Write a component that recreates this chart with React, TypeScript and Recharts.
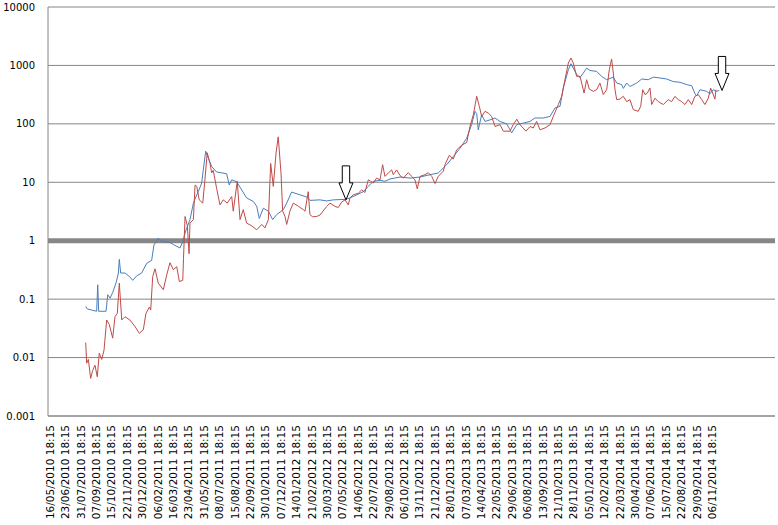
import React from 'react';
import { LineChart, Line, XAxis, YAxis, CartesianGrid, ReferenceLine, ReferenceDot } from 'recharts';

// x positions are measured in category periods (one period = spacing between date labels)
const xLabels: string[] = [
  '16/05/2010 18:15', '23/06/2010 18:15', '31/07/2010 18:15', '07/09/2010 18:15', '15/10/2010 18:15',
  '22/11/2010 18:15', '30/12/2010 18:15', '06/02/2011 18:15', '16/03/2011 18:15', '23/04/2011 18:15',
  '31/05/2011 18:15', '08/07/2011 18:15', '15/08/2011 18:15', '22/09/2011 18:15', '30/10/2011 18:15',
  '07/12/2011 18:15', '14/01/2012 18:15', '21/02/2012 18:15', '30/03/2012 18:15', '07/05/2012 18:15',
  '14/06/2012 18:15', '22/07/2012 18:15', '29/08/2012 18:15', '06/10/2012 18:15', '13/11/2012 18:15',
  '21/12/2012 18:15', '28/01/2013 18:15', '07/03/2013 18:15', '14/04/2013 18:15', '22/05/2013 18:15',
  '29/06/2013 18:15', '06/08/2013 18:15', '13/09/2013 18:15', '21/10/2013 18:15', '28/11/2013 18:15',
  '05/01/2014 18:15', '12/02/2014 18:15', '22/03/2014 18:15', '30/04/2014 18:15', '07/06/2014 18:15',
  '15/07/2014 18:15', '22/08/2014 18:15', '29/09/2014 18:15', '06/11/2014 18:15',
];
const xTicks: number[] = xLabels.map((_, i) => i);
const yTicks: number[] = [0.001, 0.01, 0.1, 1, 10, 100, 1000, 10000];

const blueT: number[] = [
  2.32, 2.42, 2.71, 3.03, 3.10, 3.16, 3.64, 3.75, 3.90, 4.07, 4.29, 4.44, 4.50, 4.59, 4.87, 5.19, 5.37, 5.63, 5.95, 6.28,
  6.60, 6.75, 6.93, 7.03, 7.25, 7.58, 7.79, 8.01, 8.44, 8.62, 8.77, 8.88, 9.09, 9.31, 9.53, 9.63, 9.85, 9.95, 10.11, 10.28,
  10.50, 10.82, 11.47, 11.64, 11.80, 12.12, 12.45, 12.77, 13.20, 13.42, 13.59, 13.85, 14.18, 14.46, 14.72, 15.15, 15.37, 15.69, 16.23, 16.67,
  16.88, 17.53, 17.97, 18.40, 19.16, 19.48, 19.92, 20.34, 20.67, 20.99, 21.43, 21.75, 22.08, 22.73, 23.38, 24.03, 24.68, 25.21, 25.76, 26.19,
  26.62, 27.06, 27.38, 27.60, 27.71, 27.81, 28.03, 28.25, 28.57, 28.90, 29.22, 29.66, 29.98, 30.31, 30.73, 31.17, 31.49, 32.03, 32.47, 32.79,
  33.12, 33.33, 33.66, 33.83, 33.98, 34.20, 34.42, 34.63, 34.85, 35.06, 35.50, 35.82, 36.15, 36.58, 36.80, 37.12, 37.23, 37.45, 37.66, 38.10,
  38.42, 38.85, 39.18, 39.61, 40.05, 40.47, 40.91, 41.34, 41.67, 41.88, 41.99, 42.21, 42.64, 42.86, 43.07, 43.29, 43.46,
];
const blueV: number[] = [
  0.075, 0.068, 0.065, 0.062, 0.176, 0.062, 0.062, 0.119, 0.104, 0.13, 0.19, 0.28, 0.48, 0.28, 0.28, 0.24, 0.21, 0.25, 0.28, 0.41,
  0.46, 0.85, 1.0, 1.1, 0.98, 0.95, 0.93, 0.86, 0.75, 0.96, 1.35, 1.64, 2.28, 4.4, 6.1, 6.9, 9.7, 16, 34, 26,
  18.6, 15, 14, 9, 11, 10.2, 7.4, 5.4, 4.7, 3.9, 2.4, 3.6, 3.2, 2.3, 2.8, 3.4, 4.4, 6.8, 6.1, 5.6,
  4.9, 5.0, 4.8, 5.0, 5.1, 5.4, 6.1, 6.9, 8.5, 10.4, 10.8, 10.4, 11.4, 12.3, 11.8, 12.3, 13.5, 14.4, 20, 27.5,
  38, 57, 97, 164, 150, 79, 143, 110, 117, 126, 110, 100, 70, 97, 103, 110, 126, 126, 134, 187,
  200, 410, 845, 1070, 900, 700, 620, 740, 900, 820, 790, 650, 570, 630, 500, 470, 405, 500, 436, 500,
  585, 570, 630, 610, 585, 530, 515, 470, 450, 330, 300, 384, 360, 327, 384, 360, 372,
];

const redT: number[] = [
  2.32, 2.38, 2.49, 2.64, 2.77, 2.92, 3.07, 3.20, 3.36, 3.51, 3.68, 3.85, 4.07, 4.22, 4.37, 4.50, 4.66, 4.87, 5.19, 5.52,
  5.80, 6.06, 6.23, 6.45, 6.54, 6.67, 6.82, 7.03, 7.36, 7.58, 7.79, 8.01, 8.23, 8.40, 8.62, 8.67, 8.77, 8.92, 9.03, 9.09,
  9.31, 9.42, 9.53, 9.69, 9.92, 10.06, 10.21, 10.39, 10.50, 10.60, 10.82, 11.04, 11.25, 11.51, 11.80, 11.90, 12.16, 12.34, 12.55, 12.77,
  13.10, 13.42, 13.75, 13.96, 14.18, 14.33, 14.50, 14.68, 14.82, 15.00, 15.11, 15.26, 15.37, 15.58, 15.80, 16.12, 16.45, 16.56, 16.77, 16.88,
  17.05, 17.32, 17.53, 17.97, 18.18, 18.51, 18.72, 18.94, 19.16, 19.37, 19.48, 19.69, 20.02, 20.24, 20.45, 20.67, 20.82, 20.99, 21.21, 21.43,
  21.60, 21.75, 21.97, 22.19, 22.29, 22.51, 22.73, 22.94, 23.27, 23.49, 23.70, 23.85, 24.03, 24.35, 24.56, 24.79, 25.00, 25.21, 25.54, 25.65,
  25.93, 26.19, 26.41, 26.73, 27.06, 27.27, 27.49, 27.71, 27.88, 28.03, 28.25, 28.46, 28.68, 28.90, 29.22, 29.44, 29.87, 30.08, 30.31, 30.52,
  30.91, 31.17, 31.38, 31.60, 31.82, 32.14, 32.47, 32.68, 33.01, 33.23, 33.44, 33.66, 33.83, 33.98, 34.20, 34.42, 34.68, 34.85, 35.02, 35.28,
  35.50, 35.71, 35.93, 36.15, 36.32, 36.47, 36.58, 36.69, 36.80, 37.01, 37.23, 37.45, 37.66, 37.88, 38.20, 38.36, 38.49, 38.64, 38.79, 38.96,
  39.07, 39.29, 39.50, 39.83, 40.15, 40.37, 40.58, 40.80, 41.02, 41.23, 41.45, 41.67, 41.88, 42.10, 42.32, 42.53, 42.75, 42.90, 43.03, 43.18,
  43.25,
];
const redV: number[] = [
  0.018, 0.008, 0.0093, 0.0044, 0.006, 0.0074, 0.0047, 0.0119, 0.0093, 0.0135, 0.044, 0.037, 0.0215, 0.05, 0.057, 0.188, 0.044, 0.05, 0.044, 0.034,
  0.026, 0.03, 0.057, 0.073, 0.065, 0.244, 0.33, 0.188, 0.145, 0.26, 0.42, 0.32, 0.36, 0.2, 0.21, 0.5, 2.6, 1.8, 0.6, 2.0,
  2.3, 9, 8.5, 5, 4.4, 11, 32, 21, 14.5, 16, 7.9, 4.1, 5, 4.4, 5.7, 3.2, 10.4, 2.3, 3.4, 2.0,
  1.8, 1.54, 1.9, 1.66, 2.3, 21, 8.5, 32, 60, 14.5, 3.2, 2.6, 1.9, 3.2, 4.4, 3.9, 3.4, 3.2, 6.9, 2.8,
  2.57, 2.6, 2.75, 3.86, 4.4, 3.86, 3.7, 4.6, 5.0, 4.1, 5.4, 6.1, 6.5, 7.4, 6.7, 11, 10.4, 9.7, 11.8, 11,
  20, 12.6, 14.4, 16.3, 13.5, 16.3, 13, 11.8, 14.6, 12.6, 11, 7.7, 12.6, 13.5, 14.6, 12.6, 9.5, 12.6, 15.5, 20,
  29, 25, 36, 43, 48, 90, 143, 296, 200, 134, 164, 153, 134, 90, 97, 75, 75, 97, 120, 97,
  75, 90, 85, 110, 79, 85, 97, 134, 214, 296, 570, 1100, 1340, 1100, 650, 650, 337, 570, 395, 360,
  384, 500, 317, 384, 845, 1290, 740, 384, 260, 265, 296, 240, 260, 175, 164, 200, 384, 317, 337, 410,
  214, 275, 240, 214, 260, 240, 296, 260, 240, 214, 260, 214, 296, 317, 260, 214, 275, 410, 337, 265,
  384,
];

// arrow markers: [time, value] of arrow tips
const arrowT: number[] = [19.22, 43.64];
const arrowV: number[] = [5.0, 373];

const blueData = blueT.map((t, i) => ({ t, v: blueV[i] }));
const redData = redT.map((t, i) => ({ t, v: redV[i] }));

const FONT = '"DejaVu Sans", Verdana, sans-serif';

const XTick = (props: any) => {
  const { x, y, payload } = props;
  return (
    <text
      x={x}
      y={y}
      transform={`rotate(-90 ${x} ${y})`}
      textAnchor="end"
      dy="0.36em"
      fontSize={10.5}
      fontFamily={FONT}
      fill="#000"
    >
      {xLabels[payload.value]}
    </text>
  );
};

const YTick = (props: any) => {
  const { x, y, payload } = props;
  return (
    <text x={x} y={y} textAnchor="end" dy="0.36em" fontSize={10} fontFamily={FONT} fill="#000">
      {String(payload.value)}
    </text>
  );
};

const Arrow = (props: any) => {
  const { cx, cy } = props;
  if (cx == null || cy == null) return null;
  const pts = [
    [cx, cy],
    [cx - 7, cy - 17],
    [cx - 3.7, cy - 17],
    [cx - 3.7, cy - 34],
    [cx + 3.7, cy - 34],
    [cx + 3.7, cy - 17],
    [cx + 7, cy - 17],
  ]
    .map((p) => p.join(','))
    .join(' ');
  return <polygon points={pts} fill="#fff" stroke="#000" strokeWidth={1} />;
};

export default function App() {
  return (
    <div style={{ position: 'absolute', left: 0, top: 0, width: 778, height: 525, background: '#fff' }}>
      <LineChart width={778} height={525} margin={{ top: 7, right: 3, left: 0, bottom: 0 }}>
        <CartesianGrid horizontal vertical={false} stroke="#868686" strokeWidth={1} />
        <XAxis
          type="number"
          dataKey="t"
          domain={[-0.13, 47.08]}
          ticks={xTicks}
          interval={0}
          allowDataOverflow
          height={109}
          tickLine={false}
          tickSize={0}
          tickMargin={9}
          axisLine={{ stroke: '#868686' }}
          tick={<XTick />}
        />
        <YAxis
          scale="log"
          domain={[0.001, 10000]}
          ticks={yTicks}
          interval={0}
          allowDataOverflow
          width={48}
          tickLine={false}
          tickSize={0}
          tickMargin={13}
          axisLine={{ stroke: '#868686' }}
          tick={<YTick />}
        />
        <ReferenceLine y={1} stroke="#878787" strokeWidth={5} />
        <Line
          data={blueData}
          dataKey="v"
          stroke="#4A7EBB"
          strokeWidth={1}
          dot={false}
          isAnimationActive={false}
          type="linear"
        />
        <Line
          data={redData}
          dataKey="v"
          stroke="#BE4B48"
          strokeWidth={1}
          dot={false}
          isAnimationActive={false}
          type="linear"
        />
        {arrowT.map((t, i) => (
          <ReferenceDot key={i} x={t} y={arrowV[i]} r={1} ifOverflow="visible" shape={(p: any) => <Arrow {...p} />} />
        ))}
      </LineChart>
    </div>
  );
}
